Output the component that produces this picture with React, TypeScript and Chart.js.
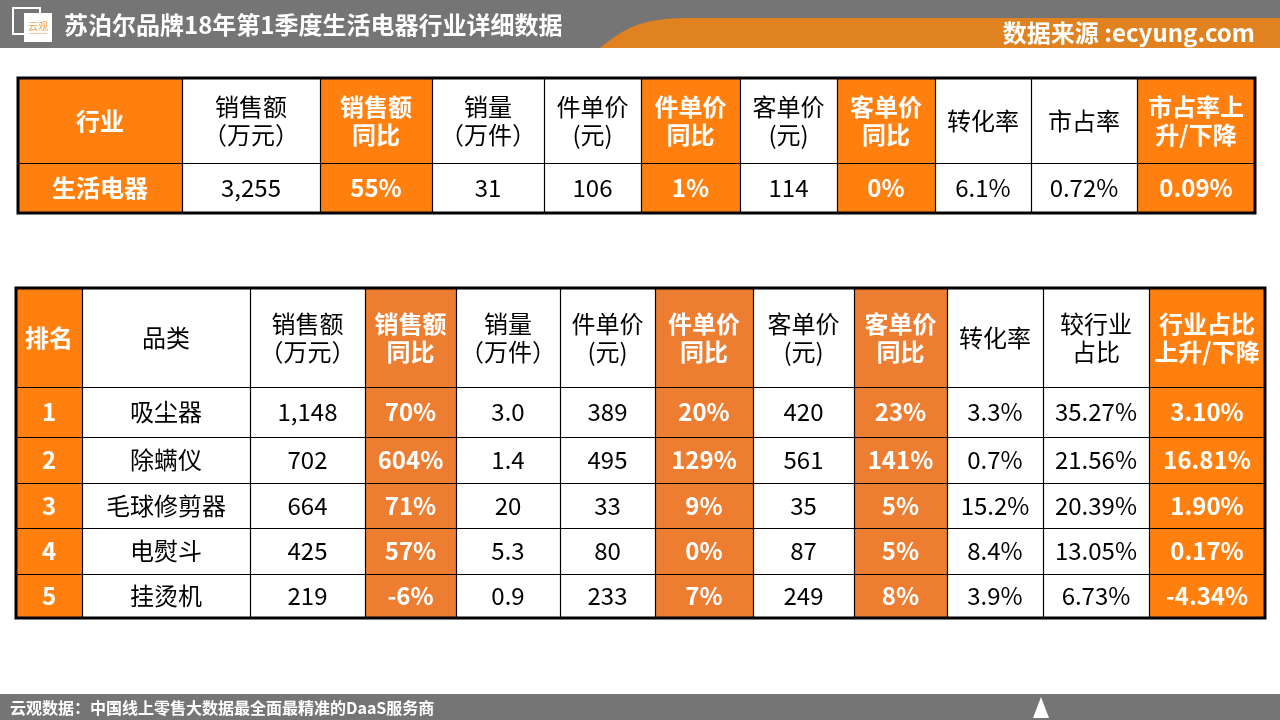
import { useEffect, useRef } from "react";
import { Chart, registerables } from "chart.js";

Chart.register(...registerables);

// ---------- text ----------
const title = "苏泊尔品牌18年第1季度生活电器行业详细数据";
const sourceText = "数据来源 :ecyung.com";
const footerText = "云观数据：中国线上零售大数据最全面最精准的DaaS服务商";
const logoText = "云观";

// ---------- table 1: industry ----------
const industryHeaders = [
  "行业",
  "销售额\n（万元）",
  "销售额\n同比",
  "销量\n（万件）",
  "件单价\n(元)",
  "件单价\n同比",
  "客单价\n(元)",
  "客单价\n同比",
  "转化率",
  "市占率",
  "市占率上\n升/下降",
];
const industryName = "生活电器";
const industrySales = 3255;
const industrySalesYoY = 55;
const industryVolume = 31;
const industryUnitPrice = 106;
const industryUnitYoY = 1;
const industryCustPrice = 114;
const industryCustYoY = 0;
const industryConversion = 6.1;
const industryShare = 0.72;
const industryShareChange = 0.09;

// ---------- table 2: categories ----------
const rankHeaders = [
  "排名",
  "品类",
  "销售额\n（万元）",
  "销售额\n同比",
  "销量\n（万件）",
  "件单价\n(元)",
  "件单价\n同比",
  "客单价\n(元)",
  "客单价\n同比",
  "转化率",
  "较行业\n占比",
  "行业占比\n上升/下降",
];
const ranks = [1, 2, 3, 4, 5];
const categories = ["吸尘器", "除螨仪", "毛球修剪器", "电熨斗", "挂烫机"];
const sales = [1148, 702, 664, 425, 219];
const salesYoY = [70, 604, 71, 57, -6];
const volume = [3.0, 1.4, 20, 5.3, 0.9];
const unitPrice = [389, 495, 33, 80, 233];
const unitPriceYoY = [20, 129, 9, 0, 7];
const custPrice = [420, 561, 35, 87, 249];
const custPriceYoY = [23, 141, 5, 5, 8];
const conversion = [3.3, 0.7, 15.2, 8.4, 3.9];
const industryRatio = [35.27, 21.56, 20.39, 13.05, 6.73];
const ratioChange = [3.1, 16.81, 1.9, 0.17, -4.34];

// ---------- formatting ----------
const fInt = (v: number) => v.toLocaleString("en-US");
const fPct0 = (v: number) => `${v}%`;
const fPct1 = (v: number) => `${v.toFixed(1)}%`;
const fPct2 = (v: number) => `${v.toFixed(2)}%`;
const fVol = (v: number) => (v >= 10 ? v.toFixed(0) : v.toFixed(1));

// ---------- layout & style ----------
const T1_COLS = [18, 182, 320, 432, 544, 641, 740, 837, 935, 1031, 1137, 1255];
const T1_ROWS = [78, 163, 213];
const T1_FILL = ["o", "w", "o", "w", "w", "o", "w", "o", "w", "w", "o"];
const T2_COLS = [16, 82, 250, 365, 456, 560, 655, 753, 854, 947, 1043, 1149, 1265];
const T2_ROWS = [288, 387, 437, 483, 528, 574, 618];
const T2_FILL = ["o", "w", "w", "m", "w", "w", "m", "w", "m", "w", "w", "o"];

const COLORS: Record<string, string> = {
  o: "#FF800F",
  m: "#ED7D31",
  w: "#FFFFFF",
};
const GRAY = "#757575";
const HEADER_ORANGE = "#E0821F";
const FONT = '"Noto Sans CJK SC", "Noto Sans", sans-serif';

function buildRows() {
  const t1 = [
    industryHeaders,
    [
      industryName,
      fInt(industrySales),
      fPct0(industrySalesYoY),
      fInt(industryVolume),
      fInt(industryUnitPrice),
      fPct0(industryUnitYoY),
      fInt(industryCustPrice),
      fPct0(industryCustYoY),
      fPct1(industryConversion),
      fPct2(industryShare),
      fPct2(industryShareChange),
    ],
  ];
  const t2: string[][] = [rankHeaders];
  ranks.forEach((r, i) => {
    t2.push([
      String(r),
      categories[i],
      fInt(sales[i]),
      fPct0(salesYoY[i]),
      fVol(volume[i]),
      fInt(unitPrice[i]),
      fPct0(unitPriceYoY[i]),
      fInt(custPrice[i]),
      fPct0(custPriceYoY[i]),
      fPct1(conversion[i]),
      fPct2(industryRatio[i]),
      fPct2(ratioChange[i]),
    ]);
  });
  return { t1, t2 };
}

const tablePlugin = {
  id: "tablePlugin",
  afterDraw(chart: any) {
    const ctx: CanvasRenderingContext2D = chart.ctx;
    const xs = chart.scales.x;
    const ys = chart.scales.y;
    const px = (v: number) => xs.getPixelForValue(v);
    const py = (v: number) => ys.getPixelForValue(v);
    const { t1, t2 } = buildRows();

    ctx.save();
    // background
    ctx.fillStyle = "#FFFFFF";
    ctx.fillRect(px(0), py(0), px(1280) - px(0), py(720) - py(0));

    // ---- header bar ----
    ctx.fillStyle = GRAY;
    ctx.fillRect(px(0), py(0), px(1280) - px(0), py(48) - py(0));
    ctx.fillStyle = HEADER_ORANGE;
    ctx.beginPath();
    ctx.moveTo(px(600), py(48));
    ctx.bezierCurveTo(px(625), py(28), px(640), py(18), px(690), py(18));
    ctx.lineTo(px(1280), py(18));
    ctx.lineTo(px(1280), py(48));
    ctx.closePath();
    ctx.fill();

    // logo
    ctx.strokeStyle = "#FFFFFF";
    ctx.lineWidth = 2;
    ctx.strokeRect(px(13), py(8), px(40) - px(13), py(34) - py(8));
    ctx.fillStyle = "#FFFFFF";
    ctx.fillRect(px(24), py(13), px(52) - px(24), py(42) - py(13));
    ctx.fillStyle = "#F0A050";
    ctx.font = `10px ${FONT}`;
    ctx.textAlign = "center";
    ctx.textBaseline = "middle";
    ctx.fillText(logoText, px(38), py(26));
    ctx.fillStyle = "#F5C9A0";
    ctx.fillRect(px(29), py(33), px(47) - px(29), 1);

    // title
    ctx.fillStyle = "#FFFFFF";
    ctx.font = `bold 24px ${FONT}`;
    ctx.textAlign = "left";
    ctx.fillText(title, px(64), py(25));

    ctx.font = `bold 24px ${FONT}`;
    ctx.textAlign = "right";
    ctx.fillText(sourceText, px(1255), py(33));

    // ---- footer ----
    ctx.fillStyle = GRAY;
    ctx.fillRect(px(0), py(694), px(1280) - px(0), py(720) - py(694));
    ctx.fillStyle = "#FFFFFF";
    ctx.font = `bold 16px ${FONT}`;
    ctx.textAlign = "left";
    ctx.fillText(footerText, px(10), py(708));
    ctx.beginPath();
    ctx.moveTo(px(1033), py(718));
    ctx.lineTo(px(1049), py(718));
    ctx.lineTo(px(1041), py(697));
    ctx.closePath();
    ctx.fill();

    // ---- tables ----
    const drawTable = (rows: string[][], cols: number[], rowsY: number[], fill: string[]) => {
      for (let r = 0; r < rows.length; r++) {
        for (let c = 0; c < cols.length - 1; c++) {
          const x0 = px(cols[c]);
          const x1 = px(cols[c + 1]);
          const y0 = py(rowsY[r]);
          const y1 = py(rowsY[r + 1]);
          const kind = fill[c];
          ctx.fillStyle = COLORS[kind];
          ctx.fillRect(x0, y0, x1 - x0, y1 - y0);
          const colored = kind !== "w";
          ctx.fillStyle = colored ? "#FFFFFF" : "#000000";
          ctx.font = `${colored ? "bold " : ""}24px ${FONT}`;
          ctx.textAlign = "center";
          ctx.textBaseline = "middle";
          const lines = rows[r][c].split("\n");
          const cx = (x0 + x1) / 2;
          const cy = (y0 + y1) / 2;
          const lh = 28;
          lines.forEach((ln, i) => {
            ctx.fillText(ln, cx, cy + (i - (lines.length - 1) / 2) * lh);
          });
        }
      }
      // inner grid
      ctx.strokeStyle = "#000000";
      ctx.lineWidth = 1.2;
      ctx.beginPath();
      for (let c = 1; c < cols.length - 1; c++) {
        const x = Math.round(px(cols[c])) + 0.5;
        ctx.moveTo(x, py(rowsY[0]));
        ctx.lineTo(x, py(rowsY[rowsY.length - 1]));
      }
      for (let r = 1; r < rowsY.length - 1; r++) {
        const y = Math.round(py(rowsY[r])) + 0.5;
        ctx.moveTo(px(cols[0]), y);
        ctx.lineTo(px(cols[cols.length - 1]), y);
      }
      ctx.stroke();
      // outer border
      ctx.lineWidth = 3;
      ctx.strokeRect(
        px(cols[0]),
        py(rowsY[0]),
        px(cols[cols.length - 1]) - px(cols[0]),
        py(rowsY[rowsY.length - 1]) - py(rowsY[0])
      );
    };

    drawTable(t1, T1_COLS, T1_ROWS, T1_FILL);
    drawTable(t2, T2_COLS, T2_ROWS, T2_FILL);
    ctx.restore();
  },
};

export default function App() {
  const canvasRef = useRef<HTMLCanvasElement | null>(null);

  useEffect(() => {
    if (!canvasRef.current) return;
    const chart = new Chart(canvasRef.current, {
      type: "scatter",
      data: { datasets: [{ data: [] }] },
      options: {
        animation: false,
        responsive: false,
        maintainAspectRatio: false,
        devicePixelRatio: 1,
        layout: { padding: 0 },
        events: [],
        plugins: { legend: { display: false }, tooltip: { enabled: false } },
        scales: {
          x: { type: "linear", min: 0, max: 1280, display: false },
          y: { type: "linear", min: 0, max: 720, reverse: true, display: false },
        },
      },
      plugins: [tablePlugin],
    });
    return () => chart.destroy();
  }, []);

  return (
    <div
      style={{
        position: "fixed",
        left: 0,
        top: 0,
        width: 1280,
        height: 720,
        background: "#fff",
      }}
    >
      <canvas ref={canvasRef} width={1280} height={720} style={{ width: 1280, height: 720 }} />
    </div>
  );
}
